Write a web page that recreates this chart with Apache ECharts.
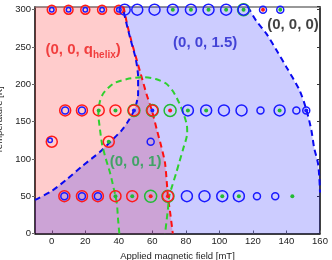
<!DOCTYPE html>
<html><head><meta charset="utf-8">
<script src="https://cdn.jsdelivr.net/npm/echarts@6/dist/echarts.min.js"></script>
<style>html,body{margin:0;padding:0;background:#fff}#c{width:332px;height:260px}</style>
</head><body><div id="c"></div>
<script>
// ---- data ----
const redBoundary = [[42.8,304],[45,280],[47.5,258],[51,230],[53.7,209],[56.5,187],[59.7,165],[62.7,139],[65.5,115],[67.6,94],[69.3,50],[70.8,25],[72.2,0]];
const blueLeftBoundary = [[-10,45],[0,57],[8.9,72.5],[18,90],[28.8,109.5],[35,123],[41.8,138.6],[46,152],[49.5,167],[51.5,187],[51.5,210],[50,235],[47,260],[44.5,282],[42.2,304]];
const blueRightBoundary = [[117,304],[122,285],[128,268],[134,246],[140,223],[147.8,192],[152,165],[154.8,139],[156.5,115],[158.8,94],[159.6,75],[160,55]];
const greenBoundary = [[40.3,0],[39.5,20],[38.8,41],[36.8,62],[34.8,81],[32,102],[30,120],[28.8,139],[27.8,160],[28.6,176],[30.8,188],[36.8,201],[45,207],[54.7,209.5],[62,207],[68.2,201],[72.5,190],[76.2,174],[79,158],[80.6,145],[80.8,135],[78.2,112],[76,95],[74.2,81],[72,65],[70.2,51.5],[69.2,31],[67.6,0]];
const plotCorners = {bottomLeft:[-10,0], topLeft:[-10,304], bottomRight:[160,0]};

const redRingsTop = [[0,300],[10,300],[20,300],[30,300],[40,300]];
const redRings = [[8,165],[18,165],[28,165],[38,165],[49,165],[60,165],[0,123],[34,123],[7.5,50],[18,50],[27.5,50],[38,50],[48,50],[69.3,50]];
const blueRingsLarge = [[43.5,300],[51,300],[61.3,300],[72.2,300],[83,300],[93.5,300],[104,300],[114.4,300],[81.2,165],[92.1,165],[102.7,165],[113.2,165],[135.9,165],[80.6,50],[91.1,50],[101.7,50],[111.6,50]];
const blueRingsSmall = [[126,300],[136.3,300],[124.5,165],[145.9,165],[151.8,165],[59,123],[122.4,50],[133.3,50],[7.5,50],[18,50],[27.5,50],[8,165],[18,165]];
const blueRingsTiny = [[0,300],[10,300],[20,300],[30,300],[40,300],[-1,125]];
const greenRings = [[49,165],[60,165],[70.6,165],[59,50],[69.3,50],[114.4,300]];
const greenDots = [[72.2,300],[83,300],[93.5,300],[104,300],[114.4,300],[28,165],[38,165],[81.2,165],[92.1,165],[135.9,165],[34,123],[38,50],[48,50],[101.7,50],[111.6,50],[143.5,50],[136.3,300]];
const redDots = [[126,300],[70.6,165],[59,50],[69.3,50]];
const blueDots = [[49,165],[60,165],[151.8,165]];

const phaseNames = ['{a|(0, 0, q}{s|helix}{a|)}', '(0, 0, 1.5)', '(0, 0, 0)', '(0, 0, 1)'];
const phaseLabelAt = [[18.7,245.6],[91.5,255],[143.9,279],[50,95.7]];
const phaseColors = ['#ee1c1c', '#2020cc', '#111111', '#1fa24a'];

const xName = 'Applied magnetic field [mT]';
const yName = 'Temperature [K]';

// ---- build ----
const redPoly = [plotCorners.bottomLeft, plotCorners.topLeft, ...redBoundary];
const bluePoly = [...blueLeftBoundary, ...blueRightBoundary, [160,0], plotCorners.bottomLeft];

function polySeries(pts, fill) {
  return {
    type: 'custom', silent: true, z: 1,
    data: pts, encode: {x: 0, y: 1},
    renderItem: function (params, api) {
      if (params.dataIndex !== 0) return null;
      return {type: 'polygon', shape: {points: pts.map(p => api.coord(p))}, style: {fill: fill}};
    }
  };
}
function dashSeries(pts, color) {
  return {type: 'line', data: pts, showSymbol: false, smooth: 0.25, silent: true, z: 3,
    lineStyle: {color: color, width: 2, type: [6, 4]}};
}
function ringSeries(pts, color, size, width) {
  return {type: 'scatter', data: pts, symbol: 'circle', symbolSize: size, silent: true, z: 5,
    itemStyle: {color: 'rgba(0,0,0,0)', borderColor: color, borderWidth: width, opacity: 1}};
}
function dotSeries(pts, color, size) {
  return {type: 'scatter', data: pts, symbol: 'circle', symbolSize: size, silent: true, z: 6,
    itemStyle: {color: color, opacity: 1}};
}

const font = 'Liberation Sans, Arial, sans-serif';
const chart = echarts.init(document.getElementById('c'), null, {renderer: 'canvas'});
chart.setOption({
  animation: false,
  backgroundColor: '#fff',
  grid: {left: 35, right: 12, top: 6.7, bottom: 26.5, containLabel: false, outerBoundsMode: 'none'},
  xAxis: [{
    type: 'value', min: -10, max: 160, splitNumber: 8, position: 'bottom',
    name: xName, nameLocation: 'middle', nameGap: 15,
    nameTextStyle: {fontSize: 9.5, color: '#222', fontFamily: font},
    axisLine: {onZero: false, lineStyle: {color: '#000', width: 1.5}},
    axisTick: {inside: true, length: 3, lineStyle: {color: '#666'}},
    axisLabel: {showMinLabel: false, fontSize: 9.5, color: '#222', margin: 3, fontFamily: font},
    splitLine: {show: false}
  }, {
    type: 'value', min: -10, max: 160, position: 'top',
    axisLine: {onZero: false, lineStyle: {color: '#777', width: 1.5}},
    axisTick: {show: false}, axisLabel: {show: false}, splitLine: {show: false}
  }],
  yAxis: [{
    type: 'value', min: 0, max: 304, interval: 50, position: 'left',
    name: yName, nameLocation: 'middle', nameGap: 24,
    nameTextStyle: {fontSize: 9.5, color: '#222', fontFamily: font},
    axisLine: {onZero: false, lineStyle: {color: '#000', width: 1.5}},
    axisTick: {inside: false, length: 3, lineStyle: {color: '#666'}},
    axisLabel: {showMaxLabel: false, fontSize: 9.5, color: '#222', margin: 4, fontFamily: font},
    splitLine: {show: false}
  }, {
    type: 'value', min: 0, max: 304, interval: 50, position: 'right',
    axisLine: {onZero: false, lineStyle: {color: '#000', width: 1.5}},
    axisTick: {inside: true, length: 3, lineStyle: {color: '#333'}},
    axisLabel: {show: false}, splitLine: {show: false}
  }],
  series: [
    polySeries(redPoly, 'rgba(255,0,0,0.2)'),
    polySeries(bluePoly, 'rgba(0,0,255,0.2)'),
    dashSeries(redBoundary, '#ff1010'),
    dashSeries(blueLeftBoundary, '#0a0af0'),
    dashSeries(blueRightBoundary, '#0a0af0'),
    dashSeries(greenBoundary, '#2ed02e'),
    ringSeries(greenRings, '#22bb33', 12, 1.5),
    ringSeries(redRingsTop, '#ff1a1a', 9, 1.5),
    ringSeries(redRings, '#ff1a1a', 11, 1.5),
    ringSeries(blueRingsLarge, '#1a1aff', 11, 1.5),
    ringSeries(blueRingsSmall, '#1a1aff', 7, 1.5),
    ringSeries(blueRingsTiny, '#1a1aff', 4.5, 1.5),
    dotSeries(greenDots, '#22bb33', 4),
    dotSeries(redDots, '#ff1a1a', 4),
    dotSeries(blueDots, '#1a1aff', 4),
    {
      type: 'scatter', silent: true, z: 10, symbolSize: 0,
      data: phaseLabelAt.map((p, i) => ({value: p, name: phaseNames[i],
        label: {color: phaseColors[i]}})),
      label: {
        show: true, position: 'inside', formatter: p => p.name,
        fontFamily: font, fontWeight: 'bold', fontSize: 15,
        rich: {
          a: {fontFamily: font, fontWeight: 'bold', fontSize: 15, color: phaseColors[0], lineHeight: 20},
          s: {fontFamily: font, fontWeight: 'bold', fontSize: 10, color: phaseColors[0], lineHeight: 13, verticalAlign: 'bottom'}
        }
      }
    }
  ]
});
</script></body></html>
